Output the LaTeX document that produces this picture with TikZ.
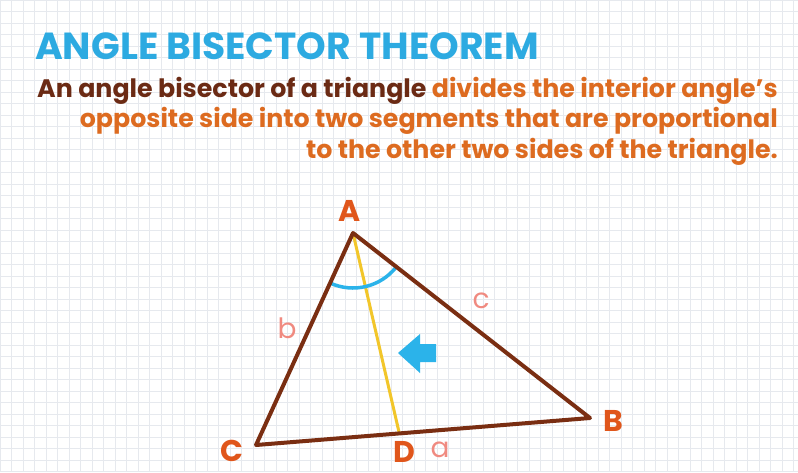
\documentclass[tikz,border=0pt]{standalone}
\usepackage{fontspec}
\setmainfont{Poppins}
\usetikzlibrary{angles}
\definecolor{titleblue}{HTML}{2DAAE1}
\definecolor{textbrown}{HTML}{6B2A14}
\definecolor{textorange}{HTML}{DD6B20}
\definecolor{tribrown}{HTML}{7A2E12}
\definecolor{bisectyellow}{HTML}{F2C62A}
\definecolor{arcblue}{HTML}{2BB3EA}
\definecolor{vertexred}{HTML}{E0561B}
\definecolor{sidepink}{HTML}{F08A80}
\definecolor{gridgray}{HTML}{E6E9EE}
\tikzset{
	grid line/.style={draw=gridgray, line width=0.8},
	tri side/.style={draw=tribrown, line width=4, line join=round},
	bisect line/.style={draw=bisectyellow, line width=3},
	angle mark/.style={draw=arcblue, line width=3.5, angle radius=55pt},
	vertex label/.style={text=vertexred, font=\bfseries\fontsize{30}{30}\selectfont, inner sep=0},
	side label/.style={text=sidepink, font=\fontsize{28}{28}\selectfont, inner sep=0},
}

\begin{document}
\begin{tikzpicture}[x=1pt, y=-1pt]

	\useasboundingbox (0,0) rectangle (798,472);
	\fill[white] (0,0) rectangle (798,472);
	\draw[grid line, step=11.5pt] (0,472) grid (798,0);

	% title and statement
	\node[anchor=base west, inner sep=0, text=titleblue,
	      font=\bfseries\fontsize{37.7}{37.7}\selectfont] (title) at (35,59) {ANGLE BISECTOR THEOREM};
	\node[anchor=north east, inner sep=0, align=right,
	      font=\bfseries\fontsize{25.3}{30.5}\selectfont] (statement) at (778,77)
	  {\textcolor{textbrown}{An angle bisector of a triangle} \textcolor{textorange}{divides the interior angle's}\\
	   \textcolor{textorange}{opposite side into two segments that are proportional}\\
	   \textcolor{textorange}{to the other two sides of the triangle.}};

	% triangle
	\coordinate (A) at (353,233);
	\coordinate (B) at (590,418);
	\coordinate (C) at (256,445);
	\coordinate (D) at (399,432);

	\draw[bisect line] (A) -- (D);
	\pic[angle mark] {angle=C--A--B};
	\draw[tri side] (A) -- (B) -- (C) -- cycle;

	\fill[arcblue] (398,353) -- (420,334) -- (420,344) -- (436,344)
	  -- (436,362) -- (420,362) -- (420,373) -- cycle;

	\node[vertex label] (A label) at (350,211) {A};
	\node[vertex label] (B label) at (613,421) {B};
	\node[vertex label] (C label) at (232,451) {C};
	\node[vertex label] (D label) at (404,452) {D};
	\node[side label] (a label) at (440,450) {a};
	\node[side label] (b label) at (287,328) {b};
	\node[side label] (c label) at (481,301) {c};

\end{tikzpicture}
\end{document}
